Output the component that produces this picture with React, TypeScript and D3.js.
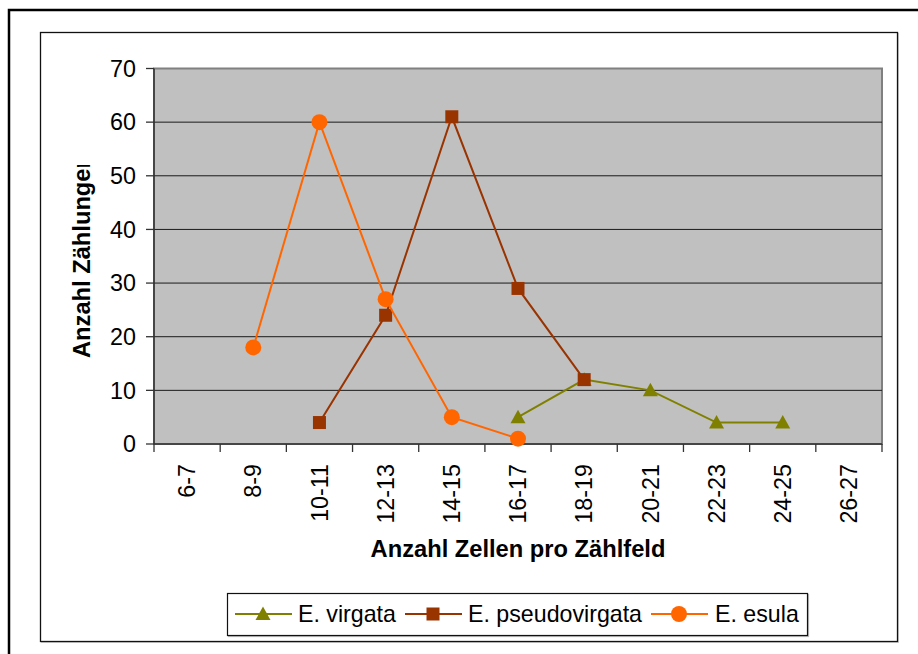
import React, { useLayoutEffect, useRef, useState } from 'react';
import * as d3 from 'd3';

const categories = ['6-7', '8-9', '10-11', '12-13', '14-15', '16-17', '18-19', '20-21', '22-23', '24-25', '26-27'];
const yTicks = [0, 10, 20, 30, 40, 50, 60, 70];

// values per category, null = no count
const virgata = [null, null, null, null, null, 5, 12, 10, 4, 4, null];
const pseudovirgata = [null, null, 4, 24, 61, 29, 12, null, null, null, null];
const esula = [null, 18, 60, 27, 5, 1, null, null, null, null, null];

const seriesNames = ['E. virgata', 'E. pseudovirgata', 'E. esula'];
const seriesColors = ['#808000', '#993300', '#FF6600'];
const seriesMarkers = ['triangle', 'square', 'circle'];

const W = 918;
const H = 654;
const plot = { left: 154, top: 68.5, right: 882, bottom: 444 };
const FONT = '"Liberation Sans", Arial, sans-serif';
const yTitle = 'Anzahl Zählungen';
const yTitleBase = 358;

const Marker: React.FC<{ kind: string; x: number; y: number; color: string }> = ({ kind, x, y, color }) => {
  if (kind === 'circle') return <circle cx={x} cy={y} r={8} fill={color} />;
  if (kind === 'square') return <rect x={x - 6.5} y={y - 6.5} width={13} height={13} fill={color} />;
  return <path d={`M${x},${y - 7.5}L${x + 7.5},${y + 6}L${x - 7.5},${y + 6}Z`} fill={color} />;
};

const App: React.FC = () => {
  const titleRef = useRef<SVGTextElement>(null);
  // the title box of the original cuts the last letter
  const [clipTop, setClipTop] = useState(156);

  useLayoutEffect(() => {
    const el = titleRef.current;
    if (!el) return;
    const len = el.getSubStringLength(0, yTitle.length - 1);
    setClipTop(yTitleBase - len - 3.5);
  }, []);

  const x = d3.scaleBand<string>().domain(categories).range([plot.left, plot.right]).padding(0);
  const y = d3.scaleLinear().domain([0, 70]).range([plot.bottom, plot.top]);
  const cx = (c: string) => (x(c) as number) + x.bandwidth() / 2;

  const allSeries = [virgata, pseudovirgata, esula];

  const line = d3.line<number | null>()
    .defined(d => d !== null)
    .x((_, i) => cx(categories[i]))
    .y(d => y(d as number));

  // legend entries: line start, text start
  const legendItems = [
    { lx: 235, tx: 298 },
    { lx: 405, tx: 468 },
    { lx: 651, tx: 715 },
  ];

  return (
    <svg width={W} height={H} style={{ position: 'absolute', left: 0, top: 0, background: '#fff' }} fontFamily={FONT}>
      <defs>
        <clipPath id="ytitle-clip">
          <rect x={0} y={clipTop} width={150} height={400} />
        </clipPath>
      </defs>

      {/* outer frame */}
      <rect x={9} y={10} width={W + 10} height={H + 10} fill="none" stroke="#000" strokeWidth={2.5} />
      {/* chart area frame */}
      <rect x={41.5} y={33.5} width={857} height={609} fill="none" stroke="#d0d0d0" strokeWidth={1} />
      <rect x={40.5} y={32.5} width={857} height={609} fill="#fff" stroke="#111" strokeWidth={1.3} />

      {/* plot area */}
      <rect x={plot.left} y={plot.top} width={plot.right - plot.left} height={plot.bottom - plot.top}
        fill="#C0C0C0" stroke="#808080" strokeWidth={2} />

      {/* gridlines */}
      {yTicks.filter(t => t > 0 && t < 70).map(t => (
        <line key={t} x1={plot.left} x2={plot.right} y1={y(t)} y2={y(t)} stroke="#1a1a1a" strokeWidth={1} />
      ))}

      {/* y axis */}
      <line x1={plot.left} x2={plot.left} y1={plot.top} y2={plot.bottom} stroke="#333" strokeWidth={1.5} />
      {yTicks.map(t => (
        <g key={t}>
          <line x1={plot.left - 8} x2={plot.left} y1={y(t)} y2={y(t)} stroke="#333" strokeWidth={1.3} />
          <text x={136} y={y(t)} dy="0.35em" textAnchor="end" fontSize={23.3} fill="#000">{t}</text>
        </g>
      ))}

      {/* x axis */}
      <line x1={plot.left} x2={plot.right} y1={plot.bottom} y2={plot.bottom} stroke="#333" strokeWidth={1.5} />
      {[...categories.map(c => x(c) as number), plot.right].map((px, i) => (
        <line key={i} x1={px} x2={px} y1={plot.bottom} y2={plot.bottom + 8} stroke="#333" strokeWidth={1.3} />
      ))}
      {categories.map(c => (
        <text key={c} transform={`translate(${cx(c)},464) rotate(-90)`} dy="0.35em" textAnchor="end"
          fontSize={23.3} fill="#000">{c}</text>
      ))}

      {/* axis titles */}
      <text x={(plot.left + plot.right) / 2} y={557} textAnchor="middle" fontSize={23.7} fontWeight="bold" fill="#000">
        Anzahl Zellen pro Zählfeld
      </text>
      <g clipPath="url(#ytitle-clip)">
        <text ref={titleRef} transform={`translate(90,${yTitleBase}) rotate(-90)`} textAnchor="start"
          fontSize={23.7} fontWeight="bold" fill="#000">
          {yTitle}
        </text>
      </g>

      {/* series */}
      {allSeries.map((s, si) => (
        <g key={si}>
          <path d={line(s) || ''} fill="none" stroke={seriesColors[si]} strokeWidth={2} />
          {s.map((v, i) => v === null ? null : (
            <Marker key={i} kind={seriesMarkers[si]} x={cx(categories[i])} y={y(v)} color={seriesColors[si]} />
          ))}
        </g>
      ))}

      {/* legend */}
      <rect x={228.5} y={594.5} width={580} height={42} fill="none" stroke="#bbb" strokeWidth={1.2} />
      <rect x={227.5} y={593.5} width={580} height={42} fill="#fff" stroke="#111" strokeWidth={1.2} />
      {legendItems.map((it, i) => (
        <g key={i}>
          <line x1={it.lx} x2={it.lx + 57} y1={614} y2={614} stroke={seriesColors[i]} strokeWidth={2} />
          <Marker kind={seriesMarkers[i]} x={it.lx + 28} y={614} color={seriesColors[i]} />
          <text x={it.tx} y={622} fontSize={23.2} fill="#000">{seriesNames[i]}</text>
        </g>
      ))}
    </svg>
  );
};

export default App;
